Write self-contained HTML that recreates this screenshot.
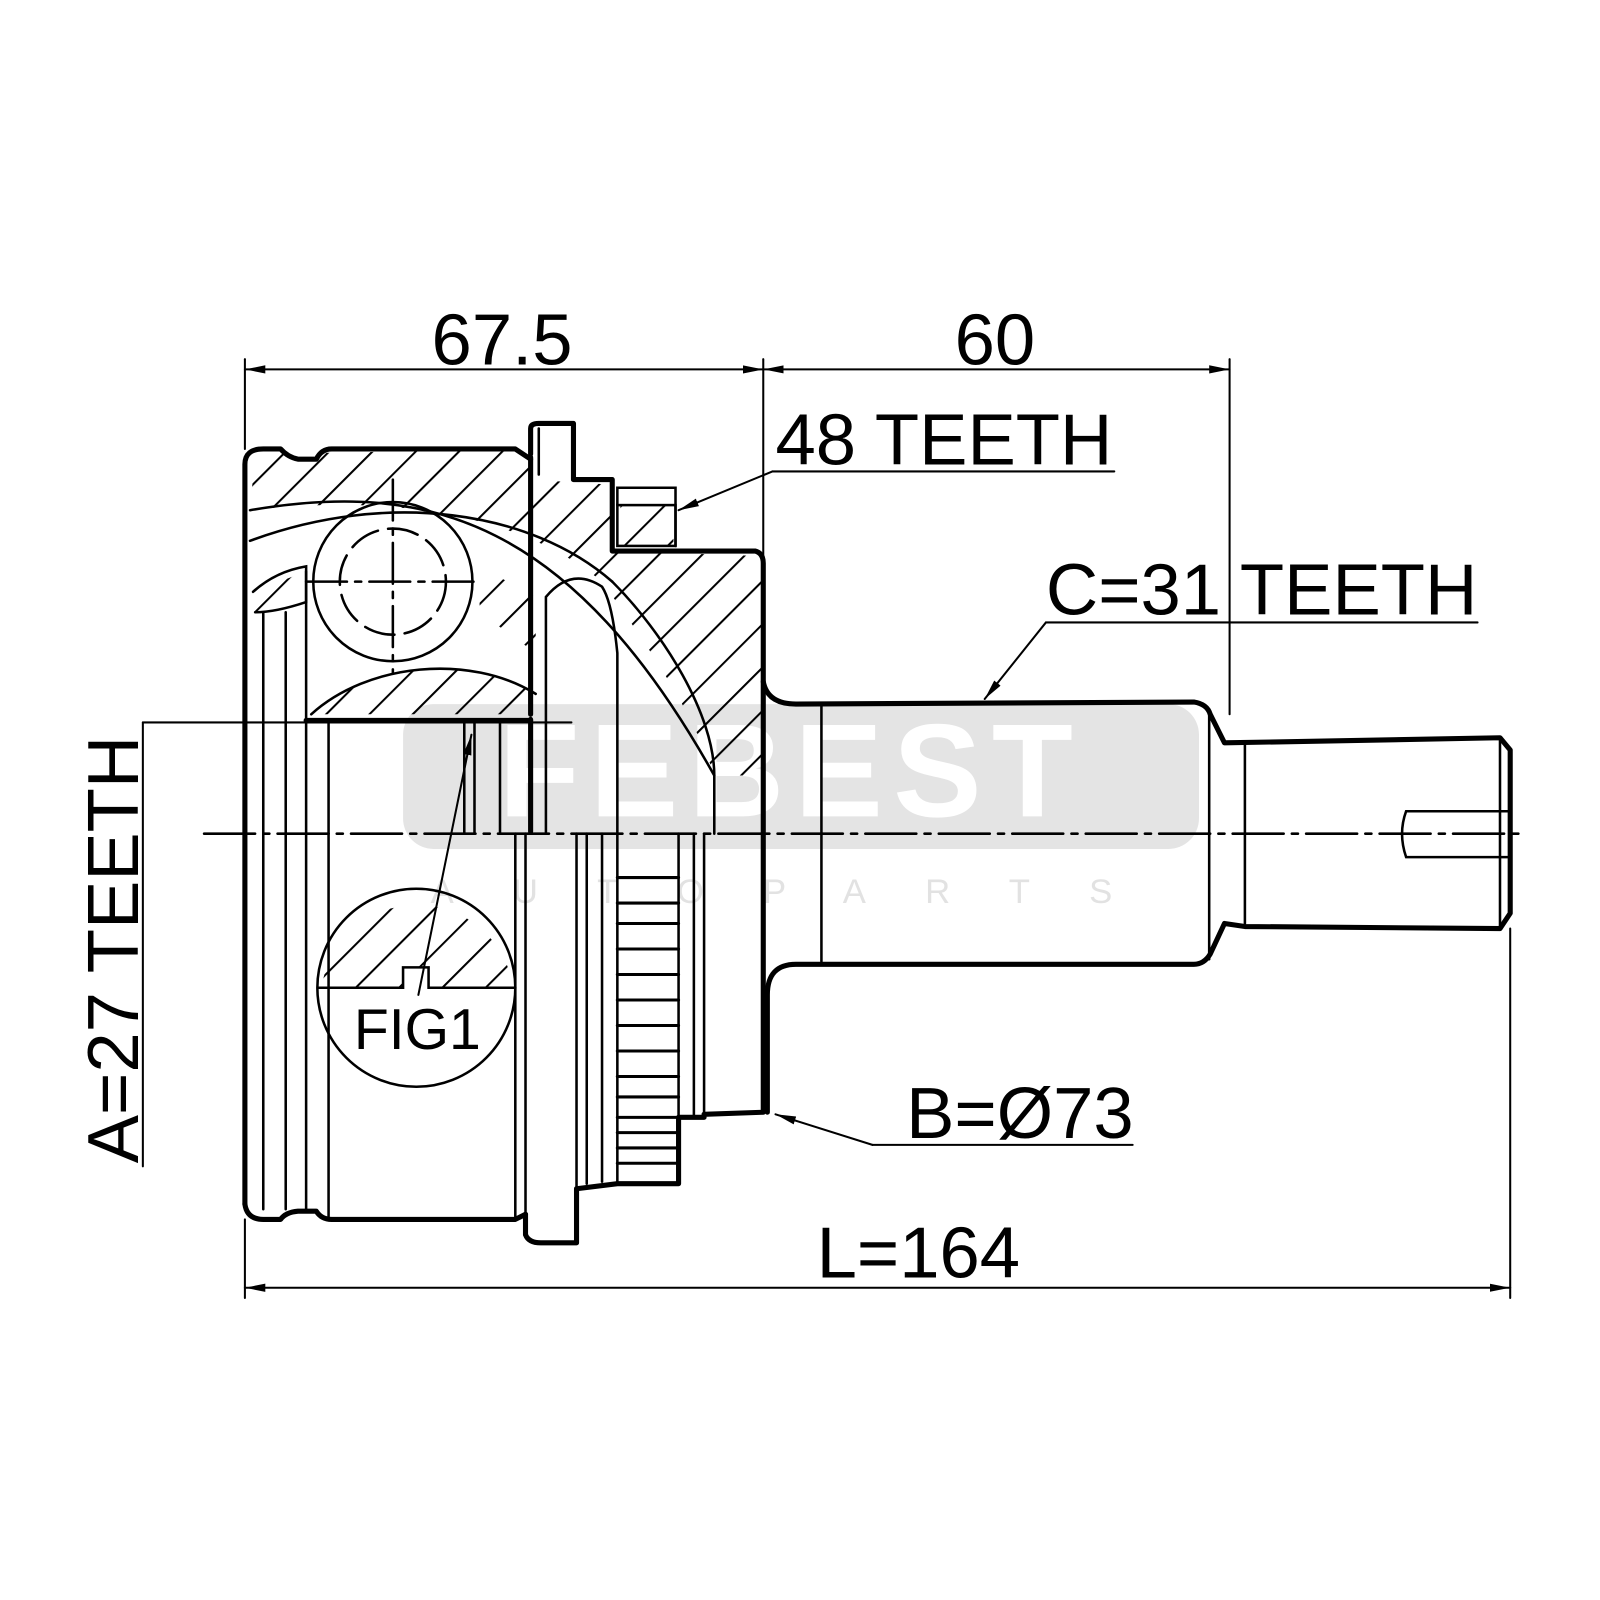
<!DOCTYPE html>
<html><head><meta charset="utf-8"><style>html,body{margin:0;padding:0;background:#fff}svg{display:block}</style></head>
<body>
<svg width="1600" height="1600" viewBox="0 0 1568 1568" xmlns="http://www.w3.org/2000/svg" font-family="Liberation Sans, Arial, sans-serif">
<defs>
<pattern id="h" patternUnits="userSpaceOnUse" width="30" height="30" patternTransform="rotate(45)">
<line x1="0" y1="0" x2="0" y2="30" stroke="#000" stroke-width="4"/>
</pattern>
<marker id="a" viewBox="0 0 20 10" refX="20" refY="5" markerWidth="20" markerHeight="10" markerUnits="userSpaceOnUse" orient="auto-start-reverse">
<path d="M0,1 L20,5 L0,9 z" fill="#000"/></marker>
</defs>
<rect width="1568" height="1568" fill="#fff"/>
<!-- watermark -->
<rect x="395" y="690" width="780" height="142" rx="30" fill="#e4e4e4"/>
<text x="775" y="800" text-anchor="middle" font-size="130" font-weight="bold" fill="#fff" letter-spacing="10">FEBEST</text>
<text x="785" y="885" text-anchor="middle" font-size="34" fill="#e2e2e2" letter-spacing="58">AUTOPARTS</text>

<!-- hatched regions -->
<g fill="url(#h)" stroke="none">
<path d="M245,500 L250,445 L520,440 L520,470 L600,475 L600,540 L748,545 L748,760 L700,760 C680,700 640,640 590,570 C530,520 420,480 245,500 z"/>
<path d="M248,580 L300,560 L300,590 L250,600 z"/>
<path d="M470,555 L525,585 L525,640 L470,600 z"/>
<path d="M305,700 C360,650 460,640 525,680 L525,700 L305,700 z"/>
<path d="M608,495 L660,495 L660,535 L608,535 z"/>
<path d="M315,968 A95,95 0 0 1 503,968 L420,968 L420,948 L395,948 L395,968 z"/>
</g>

<g fill="none" stroke="#000" stroke-linecap="round">
<g stroke-width="2">
<line x1="240" y1="352" x2="240" y2="440"/>
<line x1="748" y1="352" x2="748" y2="545"/>
<line x1="1205" y1="352" x2="1205" y2="700"/>
<line x1="240" y1="362" x2="748" y2="362" marker-start="url(#a)" marker-end="url(#a)"/>
<line x1="748" y1="362" x2="1205" y2="362" marker-start="url(#a)" marker-end="url(#a)"/>
<line x1="240" y1="1195" x2="240" y2="1272"/>
<line x1="1480" y1="910" x2="1480" y2="1272"/>
<line x1="240" y1="1262" x2="1480" y2="1262" marker-start="url(#a)" marker-end="url(#a)"/>
<polyline points="1092,462 757,462"/><line x1="757" y1="462" x2="665" y2="500" marker-end="url(#a)"/>
<polyline points="1448,610 1025,610"/><line x1="1025" y1="610" x2="965" y2="685" marker-end="url(#a)"/>
<polyline points="1110,1122 855,1122"/><line x1="855" y1="1122" x2="760" y2="1092" marker-end="url(#a)"/>
<line x1="140" y1="708" x2="560" y2="708"/><line x1="140" y1="708" x2="140" y2="1143"/>
<line x1="410" y1="975" x2="462" y2="720" marker-end="url(#a)"/>
</g>
<line x1="200" y1="817" x2="1495" y2="817" stroke-width="2.5" stroke-dasharray="50,8,6,8"/>

<g stroke-width="5" stroke-linejoin="round">
<path d="M240,1180 L240,455 Q240,440 258,440 L275,440 Q282,448 292,450 L310,450 Q315,440 325,440 L505,440 L520,450"/>
<path d="M520,445 L520,420 Q520,415 528,415 L562,415 L562,470 L600,470 L600,540 L740,540 Q748,542 748,552 L748,1090 L690,1092"/>
<path d="M240,1180 Q242,1195 258,1195 L275,1195 Q280,1188 292,1187 L310,1187 Q315,1195 325,1195 L505,1195 L515,1190"/>
<path d="M515,1190 L515,1210 Q518,1218 530,1218 L565,1218 L565,1165 L605,1160 L665,1160 L665,1095 L690,1095"/>
<path d="M520,448 L520,700 M520,705 L520,815"/>
<path d="M300,706 L520,706"/>
<path d="M748,668 Q752,690 780,690 L1170,688 Q1183,690 1186,700 L1200,728 L1470,723 L1480,735 L1480,895 L1470,910 L1220,908 L1200,905 L1186,935 Q1180,945 1170,945 L780,945 Q752,945 752,975 L752,1090"/>
</g>
<g stroke-width="2.5">
<path d="M605,495 L605,478 L662,478 L662,535"/>
<rect x="605" y="495" width="57" height="40"/>
<line x1="528" y1="420" x2="528" y2="465"/>
<line x1="805" y1="692" x2="805" y2="942"/>
<line x1="1185" y1="700" x2="1185" y2="940"/>
<line x1="1220" y1="728" x2="1220" y2="905"/>
<line x1="1470" y1="725" x2="1470" y2="908"/>
<path d="M1480,795 L1378,795 Q1370,817 1378,840 L1480,840"/>
<line x1="258" y1="600" x2="258" y2="1185"/>
<line x1="280" y1="600" x2="280" y2="1185"/>
<line x1="300" y1="560" x2="300" y2="1185"/>
<line x1="322" y1="817" x2="322" y2="1192"/>
<line x1="505" y1="817" x2="505" y2="1192"/>
<line x1="515" y1="817" x2="515" y2="1190"/>
<line x1="565" y1="817" x2="565" y2="1165"/>
<line x1="575" y1="817" x2="575" y2="1160"/>
<line x1="590" y1="817" x2="590" y2="1158"/>
<line x1="605" y1="817" x2="605" y2="1160"/>
<line x1="665" y1="817" x2="665" y2="1160"/>
<line x1="680" y1="817" x2="680" y2="1095"/>
<line x1="690" y1="817" x2="690" y2="1095"/>
<line x1="322" y1="706" x2="322" y2="817"/>
<line x1="455" y1="706" x2="455" y2="817"/>
<line x1="465" y1="706" x2="465" y2="817"/>
<line x1="490" y1="706" x2="490" y2="817"/>
<path d="M245,530 C380,480 520,500 600,570"/>
<path d="M245,500 C420,470 560,510 700,760"/>
<path d="M535,817 L535,585 Q560,555 590,575 Q600,590 605,640 L605,817"/>
<path d="M600,570 C650,620 700,700 700,760 L700,817"/>
<path d="M305,700 C360,650 460,640 525,680"/>
<path d="M248,580 Q270,560 300,555 L300,590 Q270,600 250,600"/>
<circle cx="385" cy="570" r="78"/>
<circle cx="385" cy="570" r="52" stroke-dasharray="30,10"/>
<line x1="385" y1="470" x2="385" y2="660" stroke-dasharray="40,8,6,8"/>
<line x1="300" y1="570" x2="470" y2="570" stroke-dasharray="40,8,6,8"/>
<circle cx="408" cy="968" r="97"/>
<path d="M312,968 L395,968 L395,948 L420,948 L420,968 L505,968"/>
</g>
<g stroke-width="3">
<line x1="605" y1="860" x2="665" y2="860"/><line x1="605" y1="885" x2="665" y2="885"/>
<line x1="605" y1="905" x2="665" y2="905"/><line x1="605" y1="930" x2="665" y2="930"/>
<line x1="605" y1="955" x2="665" y2="955"/><line x1="605" y1="980" x2="665" y2="980"/>
<line x1="605" y1="1005" x2="665" y2="1005"/><line x1="605" y1="1030" x2="665" y2="1030"/>
<line x1="605" y1="1055" x2="665" y2="1055"/><line x1="605" y1="1075" x2="665" y2="1075"/>
<line x1="605" y1="1095" x2="665" y2="1095"/><line x1="605" y1="1110" x2="665" y2="1110"/>
<line x1="605" y1="1125" x2="665" y2="1125"/><line x1="605" y1="1140" x2="665" y2="1140"/>
</g>
</g>

<g fill="#000" font-size="71">
<text x="492" y="357" text-anchor="middle">67.5</text>
<text x="975" y="357" text-anchor="middle">60</text>
<text x="760" y="455">48 TEETH</text>
<text x="1025" y="602">C=31 TEETH</text>
<text x="888" y="1115">B=Ø73</text>
<text x="900" y="1252" text-anchor="middle">L=164</text>
<text x="409" y="1028" text-anchor="middle" font-size="56">FIG1</text>
<text transform="translate(135,1140) rotate(-90)">A=27 TEETH</text>
</g>
</svg>
</body></html>
